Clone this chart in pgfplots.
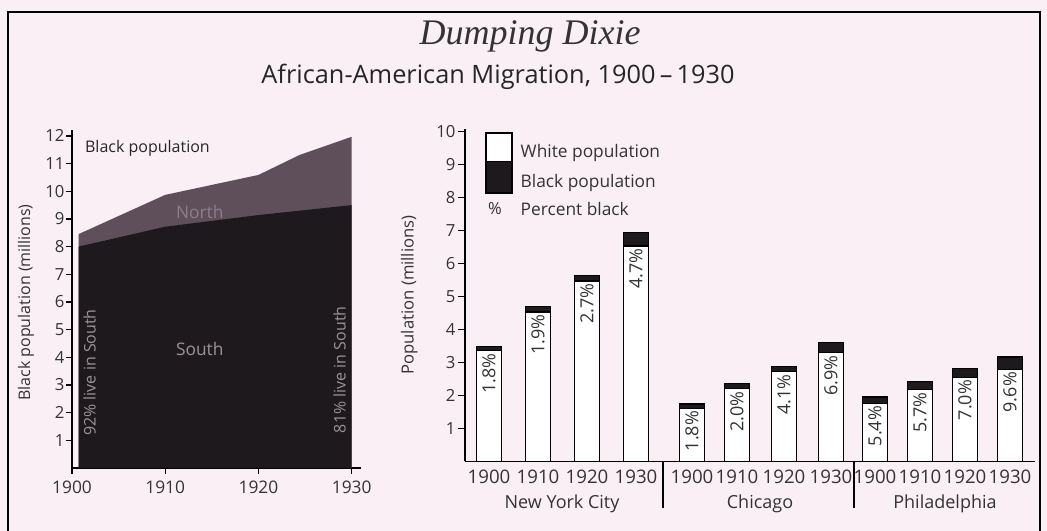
\documentclass[border=0pt]{standalone}
\usepackage{fontspec}
\setmainfont{Open Sans}
\newfontfamily\titlefont{Liberation Serif}
\usepackage{pgfplots}
\usepackage{pgfplotstable}
\pgfplotsset{compat=1.18}

\definecolor{bg}{HTML}{FAEFF5}
\definecolor{south}{HTML}{1E191C}
\definecolor{north}{HTML}{5E4F5A}
\definecolor{northtxt}{HTML}{8E7E8A}
\definecolor{southtxt}{HTML}{9A9397}

% Left chart: black population (millions)
\pgfplotstableread{
year total
1900.7 8.45
1910 9.87
1920 10.59
1924.4 11.31
1930 11.97
}\totaltab
\pgfplotstableread{
year south
1900.7 8.00
1910 8.72
1920 9.14
1930 9.50
}\southtab

% Right chart: city populations (millions), x = bar position
\pgfplotstableread{
x white black
489 3.36 0.12
538 4.54 0.17
587 5.48 0.17
636 6.54 0.40
692 1.61 0.13
737 2.21 0.16
784 2.72 0.17
831 3.30 0.30
875 1.76 0.20
920 2.18 0.24
965 2.55 0.27
1010 2.79 0.38
}\citytab

\begin{document}
\begin{tikzpicture}
\fill[bg] (0,0) rectangle (785.25pt,398.25pt);
\useasboundingbox (0,0) rectangle (785.25pt,398.25pt);

\begin{axis}[
  at={(54pt,47.25pt)}, anchor=south west, scale only axis,
  width=216.75pt, height=253.2pt,
  xmin=1900, xmax=1931, ymin=0, ymax=12.2,
  axis x line=bottom, axis y line=left,
  axis line style={-, line width=1.3pt},
  xtick={1900,1910,1920,1930}, xticklabels={1900,1910,1920,1930},
  ytick={1,2,3,4,5,6,7,8,9,10,11,12},
  tick align=outside, major tick length=4.5pt,
  tick style={black, line width=0.9pt},
  /pgf/number format/assume math mode=true,
  xticklabel style={font=\fontsize{13}{13}\selectfont, text=black!80, yshift=-2pt},
  yticklabel style={font=\fontsize{12.5}{12}\selectfont, text=black!80, inner sep=1pt},
  ylabel={Black population (millions)},
  ylabel style={font=\fontsize{12}{13}\selectfont, text=black!80, at={(axis description cs:-0.115,0.49)}},
]
\addplot[draw=none, fill=north] table[x=year,y=total] {\totaltab} \closedcycle;
\addplot[draw=none, fill=south] table[x=year,y=south] {\southtab} \closedcycle;
\node[anchor=west, font=\fontsize{12}{12}\selectfont, text=black!85] at (axis cs:1900.9,11.55) {Black population};
\node[font=\fontsize{13}{13}\selectfont, text=northtxt] at (axis cs:1913.7,9.25) {North};
\node[font=\fontsize{13}{13}\selectfont, text=southtxt] at (axis cs:1913.7,4.3) {South};
\node[rotate=90, font=\fontsize{12}{12}\selectfont, text=southtxt] at (axis cs:1901.9,3.45) {92\% live in South};
\node[rotate=90, font=\fontsize{12}{12}\selectfont, text=southtxt] at (axis cs:1928.7,3.55) {81\% live in South};
\end{axis}

\begin{axis}[
  at={(348.75pt,52.125pt)}, anchor=south west, scale only axis,
  width=427.5pt, height=249.7pt,
  xmin=465, xmax=1035, ymin=0, ymax=10.1,
  axis x line=bottom, axis y line=left,
  axis line style={-, line width=1.3pt},
  ybar stacked, bar width=25,
  xtick={489,538,587,636,692,737,784,831,875,920,965,1010},
  xticklabels={1900,1910,1920,1930,1900,1910,1920,1930,1900,1910,1920,1930},
  ytick={1,2,3,4,5,6,7,8,9,10},
  tick align=outside, major tick length=5pt,
  xtick style={draw=none},
  ytick style={black, line width=0.9pt},
  /pgf/number format/assume math mode=true,
  xticklabel style={font=\fontsize{14}{14}\selectfont, text=black!80, inner sep=1pt},
  yticklabel style={font=\fontsize{12.5}{12}\selectfont, text=black!80, inner sep=2pt},
  ylabel={Population (millions)},
  ylabel style={font=\fontsize{12.5}{13}\selectfont, text=black!80, at={(axis description cs:-0.075,0.5)}},
  clip=false,
]
\addplot[fill=white, draw=black, line width=1pt] table[x=x,y=white] {\citytab};
\addplot[fill=south, draw=black, line width=1pt] table[x=x,y=black] {\citytab};
\draw[line width=1pt] (axis cs:663,0) -- (axis cs:663,-1.4);
\draw[line width=1pt] (axis cs:854,0) -- (axis cs:854,-1.4);
\node[font=\fontsize{13.5}{13}\selectfont, text=black!80] at (axis cs:562,-1.27) {New York City};
\node[font=\fontsize{13.5}{13}\selectfont, text=black!80] at (axis cs:760,-1.27) {Chicago};
\node[font=\fontsize{13.5}{13}\selectfont, text=black!80] at (axis cs:945,-1.27) {Philadelphia};
\coordinate (p1) at (axis cs:489,3.33);
\coordinate (p2) at (axis cs:538,4.51);
\coordinate (p3) at (axis cs:587,5.45);
\coordinate (p4) at (axis cs:636,6.51);
\coordinate (p5) at (axis cs:692,1.58);
\coordinate (p6) at (axis cs:737,2.18);
\coordinate (p7) at (axis cs:784,2.69);
\coordinate (p8) at (axis cs:831,3.27);
\coordinate (p9) at (axis cs:875,1.73);
\coordinate (p10) at (axis cs:920,2.15);
\coordinate (p11) at (axis cs:965,2.52);
\coordinate (p12) at (axis cs:1010,2.76);
\end{axis}
\foreach \c/\lab in {p1/1.8,p2/1.9,p3/2.7,p4/4.7,p5/1.8,p6/2.0,p7/4.1,p8/6.9,p9/5.4,p10/5.7,p11/7.0,p12/9.6}{
  \node[rotate=90, anchor=east, font=\fontsize{13.5}{13}\selectfont, text=black!80, inner sep=1pt] at (\c) {\lab\%};
}

\begin{scope}[x=0.75pt,y=-0.75pt,yshift=398.25pt]
% frame
\draw[line width=1.6pt] (8,531) -- (8,12) -- (1040,12) -- (1040,531);
% titles
\node[font=\titlefont\itshape\fontsize{27}{29}\selectfont, text=black!80] at (530,36) {Dumping Dixie};
\node[font=\fontsize{19}{20}\selectfont, text=black!85] at (498,77) {African-American Migration, 1900\,–\,1930};
% legend
\draw[line width=0.9pt, fill=white] (486,133) rectangle (512,162);
\fill[south] (486,162) rectangle (512,193);
\draw[line width=0.9pt] (486,133) rectangle (512,193);
\node[anchor=west, font=\fontsize{13}{13}\selectfont, text=black!80] at (516,153) {White population};
\node[anchor=west, font=\fontsize{13}{13}\selectfont, text=black!80] at (516,183) {Black population};
\node[font=\fontsize{12.5}{13}\selectfont, text=black!80] at (495,209) {\%};
\node[anchor=west, font=\fontsize{13}{13}\selectfont, text=black!80] at (516,209) {Percent black};
\end{scope}
\end{tikzpicture}
\end{document}
